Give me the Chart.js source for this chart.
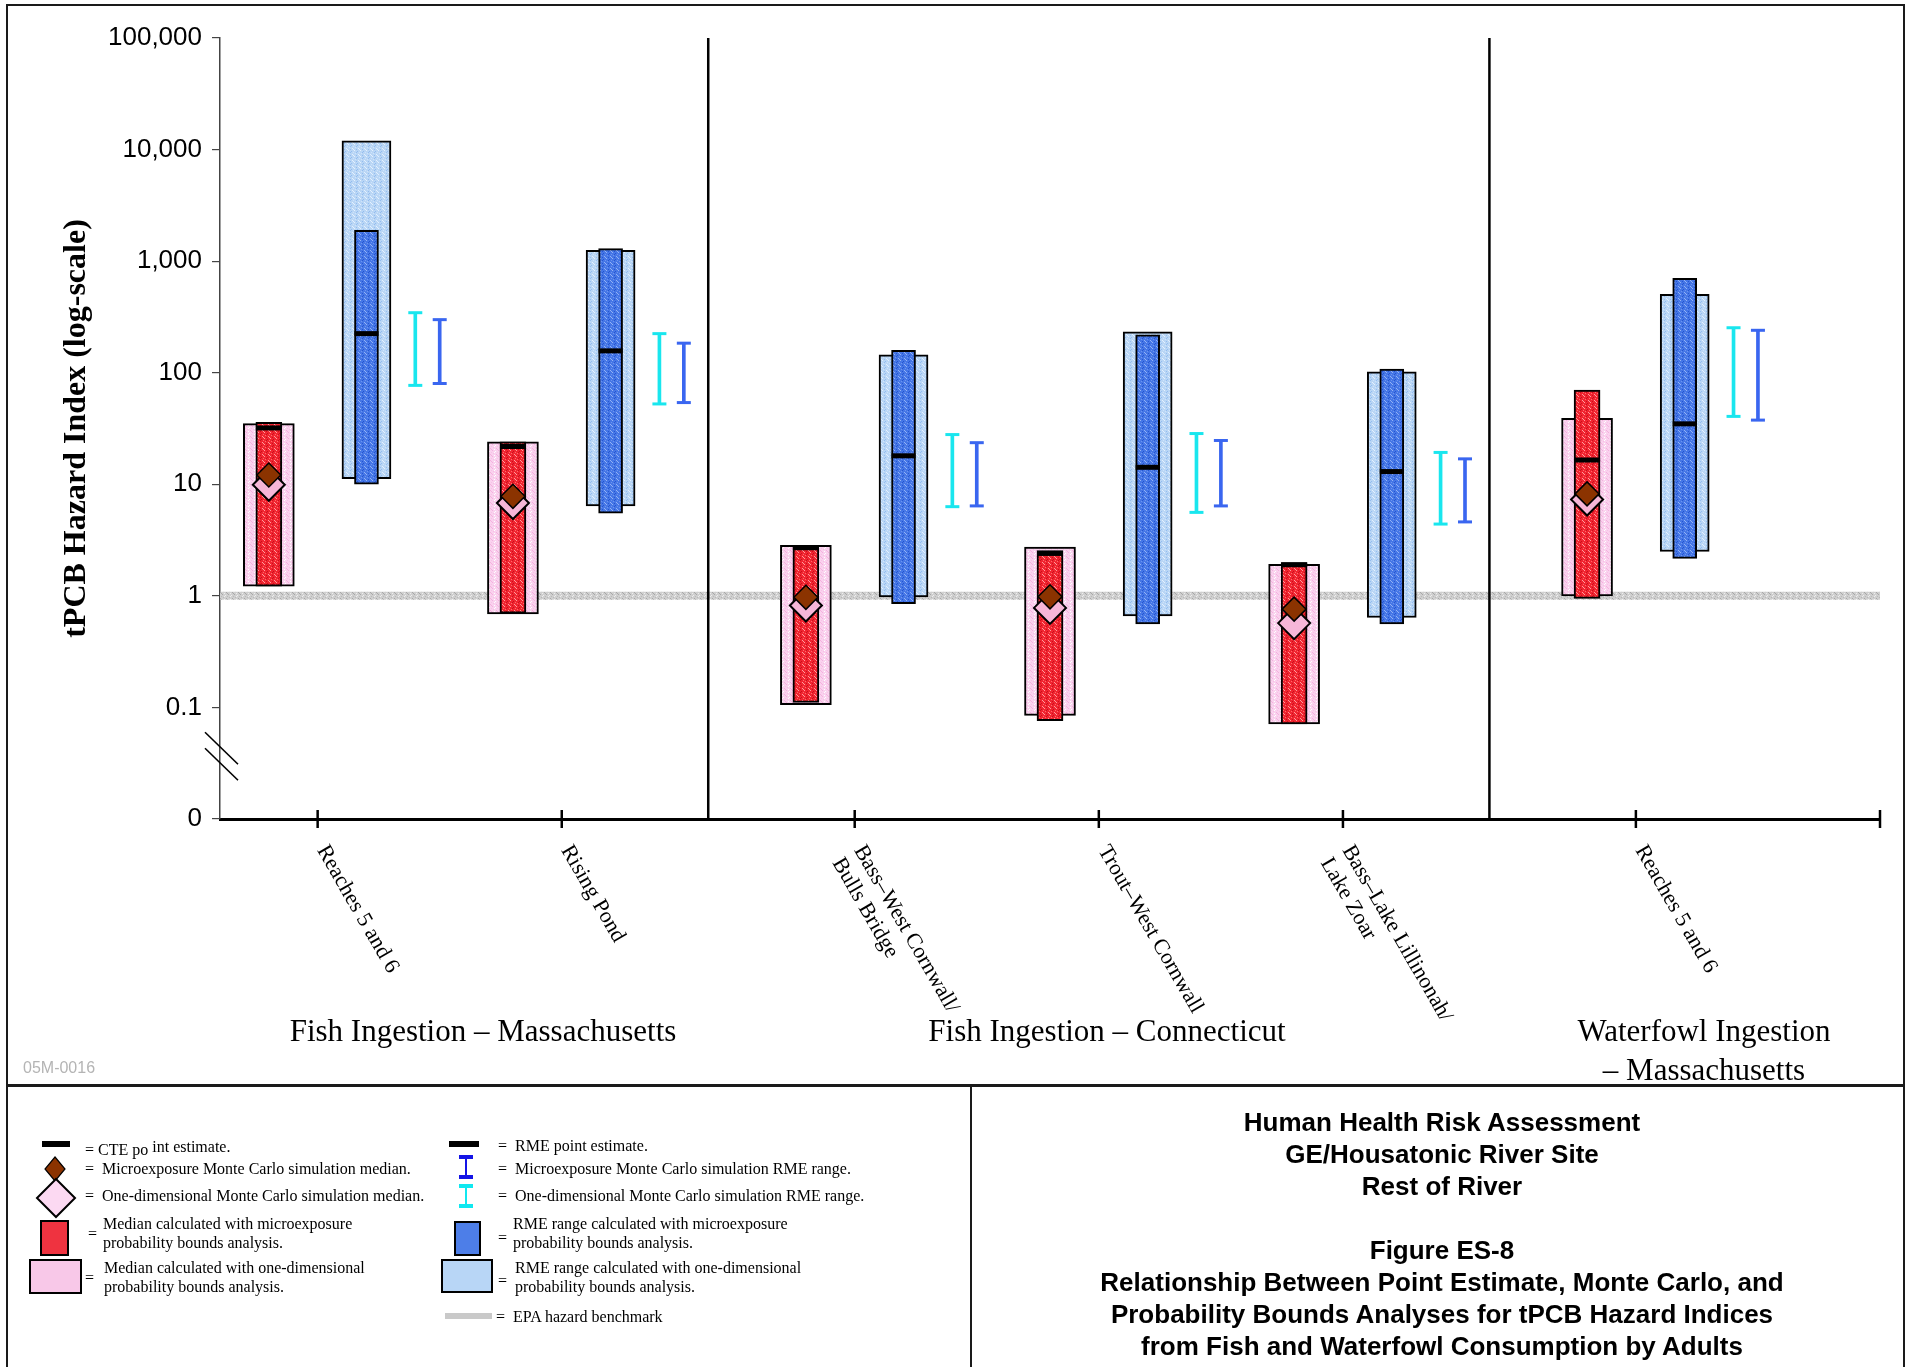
<!DOCTYPE html>
<html>
<head>
<meta charset="utf-8">
<script src="https://cdn.jsdelivr.net/npm/chart.js@4.4.1/dist/chart.umd.min.js"></script>
<style>
  html, body { margin: 0; padding: 0; background: #fff; }
  #page { position: relative; width: 1911px; height: 1367px; overflow: hidden; background: #fff; }
  #chart { position: absolute; left: 0; top: 0; }
  .line { position: absolute; background: #1a1a1a; }
  .t { position: absolute; white-space: nowrap; color: #000; }
  .grp { font-family: 'Liberation Serif'; font-size: 31px; line-height: 39px; text-align: center; transform: translate(-50%, -50%); }
  .leg { font-family: 'Liberation Serif'; font-size: 16px; line-height: 19px; transform: translateY(-50%); }
  .ttl { font-family: 'Liberation Sans'; font-weight: bold; font-size: 26px; line-height: 32px; text-align: center; transform: translateX(-50%); }
  svg { position: absolute; left: 0; top: 0; }
</style>
</head>
<body>
<div id="page">
  <canvas id="chart" width="1911" height="1367"></canvas>

  <!-- frame -->
  <div class="line" style="left:6px; top:4px; width:1899px; height:2px;"></div>
  <div class="line" style="left:6px; top:4px; width:2px; height:1363px;"></div>
  <div class="line" style="left:1903px; top:4px; width:2px; height:1363px;"></div>
  <div class="line" style="left:6px; top:1084px; width:1899px; height:3px;"></div>
  <div class="line" style="left:970px; top:1084px; width:2px; height:283px;"></div>

  <!-- group captions -->
  <div class="t grp" style="left:483px; top:1030px;">Fish Ingestion – Massachusetts</div>
  <div class="t grp" style="left:1107px; top:1030px;">Fish Ingestion – Connecticut</div>
  <div class="t grp" style="left:1704px; top:1050px;">Waterfowl Ingestion<br>– Massachusetts</div>
  <div class="t" style="left:23px; top:1059px; font-family:'Liberation Sans'; font-size:16px; color:#b4b4b4;">05M-0016</div>

  <!-- legend symbols -->
  <svg width="1000" height="1367">
    <rect x="42" y="1141" width="28" height="6" fill="#000"/>
    <polygon points="55,1157 65,1169 55,1181 45,1169" fill="#8b3300" stroke="#000" stroke-width="1.2"/>
    <polygon points="56,1179 75,1198 56,1217 37,1198" fill="#fcd9f2" stroke="#000" stroke-width="2"/>
    <rect x="41" y="1221" width="27" height="34" fill="#ef3340" stroke="#000" stroke-width="2"/>
    <rect x="30" y="1260" width="51" height="33" fill="#f8c8e8" stroke="#000" stroke-width="2"/>

    <rect x="449" y="1141" width="30" height="6" fill="#000"/>
    <rect x="465" y="1156" width="2" height="22" fill="#1414e6"/>
    <rect x="459" y="1155" width="14" height="4" fill="#1414e6"/>
    <rect x="459" y="1175" width="14" height="4" fill="#1414e6"/>
    <rect x="465" y="1185" width="2" height="22" fill="#10e8f0"/>
    <rect x="459" y="1184" width="14" height="4" fill="#10e8f0"/>
    <rect x="459" y="1204" width="14" height="4" fill="#10e8f0"/>
    <rect x="455" y="1222" width="25" height="33" fill="#4d7ee8" stroke="#000" stroke-width="2"/>
    <rect x="442" y="1260" width="50" height="32" fill="#b8d6f6" stroke="#000" stroke-width="2"/>
    <rect x="445" y="1313" width="47" height="6" fill="#c9c9c9"/>
  </svg>

  <!-- legend text, column 1 -->
  <div class="t leg" style="left:85px; top:1146px;"><span style="position:relative; top:3px;">= CTE po</span> int estimate.</div>
  <div class="t leg" style="left:85px; top:1168px;">=&nbsp; Microexposure Monte Carlo simulation median.</div>
  <div class="t leg" style="left:85px; top:1195px;">=&nbsp; One-dimensional Monte Carlo simulation median.</div>
  <div class="t leg" style="left:88px; top:1233px;">=</div>
  <div class="t leg" style="left:103px; top:1233px;">Median calculated with microexposure<br>probability bounds analysis.</div>
  <div class="t leg" style="left:85px; top:1277px;">=</div>
  <div class="t leg" style="left:104px; top:1277px;">Median calculated with one-dimensional<br>probability bounds analysis.</div>

  <!-- legend text, column 2 -->
  <div class="t leg" style="left:498px; top:1145px;">=&nbsp; RME point estimate.</div>
  <div class="t leg" style="left:498px; top:1168px;">=&nbsp; Microexposure Monte Carlo simulation RME range.</div>
  <div class="t leg" style="left:498px; top:1195px;">=&nbsp; One-dimensional Monte Carlo simulation RME range.</div>
  <div class="t leg" style="left:498px; top:1237px;">=</div>
  <div class="t leg" style="left:513px; top:1233px;">RME range calculated with microexposure<br>probability bounds analysis.</div>
  <div class="t leg" style="left:498px; top:1280px;">=</div>
  <div class="t leg" style="left:515px; top:1277px;">RME range calculated with one-dimensional<br>probability bounds analysis.</div>
  <div class="t leg" style="left:496px; top:1316px;">=&nbsp; EPA hazard benchmark</div>

  <!-- title block -->
  <div class="t ttl" style="left:1442px; top:1106px;">Human Health Risk Assessment<br>GE/Housatonic River Site<br>Rest of River<br>&nbsp;<br>Figure ES-8<br>Relationship Between Point Estimate, Monte Carlo, and<br>Probability Bounds Analyses for tPCB Hazard Indices<br>from Fish and Waterfowl Consumption by Adults</div>
</div>

<script>
// categories along the x axis
const categories = [
  'Reaches 5 and 6',
  'Rising Pond',
  'Bass–West Cornwall/\nBulls Bridge',
  'Trout–West Cornwall',
  'Bass–Lake Lillinonah/\nLake Zoar',
  'Reaches 5 and 6'
];
const groupOf = [0, 0, 1, 1, 1, 2];

// y axis ticks (0 stands for the broken bottom of the log axis)
const yTickValues = [0.01, 0.1, 1, 10, 100, 1000, 10000, 100000];
const yTickLabels = ['0', '0.1', '1', '10', '100', '1,000', '10,000', '100,000'];

// median (CTE) side
const medianOneDimLow  = [1.22, 0.69, 0.106, 0.085, 0.071, 1.0];
const medianOneDimHigh = [35, 24, 2.84, 2.74, 1.92, 39];
const medianMicroLow   = [1.22, 0.70, 0.111, 0.076, 0.071, 0.95];
const medianMicroHigh  = [36, 24, 2.84, 2.54, 1.99, 70];
const ctePoint         = [32, 21.8, 2.7, 2.4, 1.9, 16.5];
const mcMicroMedian    = [12.1, 7.8, 0.97, 0.98, 0.76, 8.2];
const mcOneDimMedian   = [9.9, 6.8, 0.82, 0.78, 0.57, 7.3];

// RME side
const rmeOneDimLow  = [11.2, 6.4, 0.98, 0.66, 0.64, 2.5];
const rmeOneDimHigh = [12000, 1250, 145, 232, 102, 504];
const rmeMicroLow   = [10, 5.5, 0.85, 0.56, 0.56, 2.17];
const rmeMicroHigh  = [1885, 1294, 159, 219, 108, 703];
const rmePoint      = [224, 157, 18, 14.2, 13, 34.8];

// Monte Carlo RME ranges
const mcOneDimRmeLow  = [77, 52.5, 6.3, 5.6, 4.4, 40.6];
const mcOneDimRmeHigh = [345, 224, 27.9, 28.5, 19.3, 253];
const mcMicroRmeLow   = [80, 54, 6.4, 6.4, 4.6, 37.6];
const mcMicroRmeHigh  = [299, 184, 23.6, 24.7, 16.9, 240];

const benchmark = 1;

// x layout: ten units per category, two extra units between groups
const pos = categories.map((c, i) => 4 + 10 * i + 2 * groupOf[i]);
const xMax = pos[pos.length - 1] + 10;
const dividers = [];
for (let i = 1; i < pos.length; i++) {
  if (groupOf[i] !== groupOf[i - 1]) dividers.push((pos[i] + pos[i - 1]) / 2);
}

function speckle(base, dots) {
  const c = document.createElement('canvas');
  c.width = c.height = 6;
  const g = c.getContext('2d');
  g.fillStyle = base;
  g.fillRect(0, 0, 6, 6);
  const pts = [[0, 0], [3, 1], [1, 3], [4, 4], [2, 5], [5, 2], [5, 5], [2, 2]];
  pts.forEach(([px, py], k) => {
    g.fillStyle = dots[k % dots.length];
    g.fillRect(px, py, 1, 1);
  });
  return g.createPattern(c, 'repeat');
}

const pinkFill  = speckle('#fad2ee', ['#f4b0de', '#ffffff', '#f7c0e6']);
const redFill   = speckle('#f02430', ['#ff9c9c', '#c8101c', '#ff6a6a']);
const lightFill = speckle('#b9d6f5', ['#e4f0ff', '#93bcf0', '#cfe3fb']);
const darkFill  = speckle('#4576e6', ['#93b2f5', '#2455d0', '#6d95ee']);
const grayFill  = speckle('#cfcfcf', ['#a8a8a8', '#eeeeee', '#b9b9b9']);

const ranges = (lo, hi, off) => lo.map((v, i) => ({x: pos[i] + off, y: [v, hi[i]]}));
const points = (vals, off) => vals.map((v, i) => ({x: pos[i] + off, y: v}));

function box(data, fill, width, order) {
  return {
    type: 'bar', data, backgroundColor: fill, borderColor: '#000', borderWidth: 2,
    borderSkipped: false, barThickness: width, grouped: false, order
  };
}
function marks(data, style, radius, fill, border, bw, order) {
  return {
    type: 'line', data, showLine: false, pointStyle: style, pointRadius: radius,
    pointHoverRadius: radius, pointBackgroundColor: fill, pointBorderColor: border,
    pointBorderWidth: bw, order
  };
}
function errorBar(lo, hi, off, color, order) {
  return [
    {type: 'bar', data: ranges(lo, hi, off), backgroundColor: color, borderWidth: 0,
     barThickness: 3, grouped: false, order},
    marks(points(lo, off).concat(points(hi, off)), 'line', 7, color, color, 3, order)
  ];
}

const datasets = [
  {type: 'line', data: [{x: 0, y: benchmark}, {x: xMax, y: benchmark}], borderColor: grayFill,
   borderWidth: 8, pointRadius: 0, order: 20},
  ...dividers.map(d => ({type: 'line', data: [{x: d, y: 0.01}, {x: d, y: 100000}],
    borderColor: '#000', borderWidth: 2.5, pointRadius: 0, order: 19})),
  box(ranges(rmeOneDimLow, rmeOneDimHigh, 2), lightFill, 49, 9),
  box(ranges(rmeMicroLow, rmeMicroHigh, 2), darkFill, 24, 8),
  box(ranges(medianOneDimLow, medianOneDimHigh, -2), pinkFill, 51, 9),
  box(ranges(medianMicroLow, medianMicroHigh, -2), redFill, 26, 8),
  marks(points(ctePoint, -2), 'line', 13, '#000', '#000', 5, 5),
  marks(points(rmePoint, 2), 'line', 12, '#000', '#000', 5, 5),
  marks(points(mcOneDimMedian, -2), 'rectRot', 16, '#f6b6d8', '#000', 2, 3),
  marks(points(mcMicroMedian, -2), 'rectRot', 12, '#8b3300', '#000', 1.5, 2),
  ...errorBar(mcOneDimRmeLow, mcOneDimRmeHigh, 4, '#19e6ee', 4),
  ...errorBar(mcMicroRmeLow, mcMicroRmeHigh, 5, '#3a66f0', 4)
];

const decor = {
  id: 'decor',
  afterDraw(chart) {
    const {ctx, scales: {x, y}} = chart;
    const axisY = y.getPixelForValue(yTickValues[0]);
    ctx.save();
    ctx.strokeStyle = '#000';
    ctx.lineWidth = 2.5;
    pos.concat([xMax]).forEach(v => {
      const px = x.getPixelForValue(v);
      ctx.beginPath();
      ctx.moveTo(px, axisY - 9);
      ctx.lineTo(px, axisY + 9);
      ctx.stroke();
    });

    ctx.font = '22px "Liberation Serif"';
    ctx.fillStyle = '#000';
    ctx.textAlign = 'left';
    ctx.textBaseline = 'middle';
    categories.forEach((c, i) => {
      const px = x.getPixelForValue(pos[i]);
      ctx.save();
      ctx.translate(px + 4, axisY + 28);
      ctx.rotate(Math.PI / 3);
      c.split('\n').forEach((line, k) => ctx.fillText(line, 0, k * 25));
      ctx.restore();
    });

    // axis break between 0.1 and 0
    const yb = (y.getPixelForValue(yTickValues[1]) + axisY) / 2;
    const ax = x.left;
    ctx.lineWidth = 1.6;
    [yb - 15, yb + 1].forEach(c => {
      ctx.beginPath();
      ctx.moveTo(ax - 15, c - 16);
      ctx.lineTo(ax + 18, c + 16);
      ctx.stroke();
    });
    ctx.restore();
  }
};

new Chart(document.getElementById('chart'), {
  type: 'bar',
  data: {datasets},
  options: {
    responsive: false,
    animation: false,
    devicePixelRatio: 1,
    layout: {padding: {left: 0, top: 38, right: 31, bottom: 538}},
    plugins: {legend: {display: false}, tooltip: {enabled: false}},
    scales: {
      x: {
        type: 'linear', min: 0, max: xMax, offset: false,
        afterFit: s => { s.height = 10; },
        ticks: {display: false},
        grid: {display: false, offset: false},
        border: {color: '#000', width: 3}
      },
      y: {
        type: 'logarithmic', min: yTickValues[0], max: yTickValues[yTickValues.length - 1],
        afterBuildTicks: s => { s.ticks = yTickValues.map(v => ({value: v})); },
        afterFit: s => { s.width = 220; },
        ticks: {
          autoSkip: false,
          callback: v => yTickLabels[yTickValues.indexOf(v)],
          font: {family: 'Liberation Sans', size: 26},
          color: '#000',
          padding: 10
        },
        grid: {drawOnChartArea: false, drawTicks: true, tickLength: 8, color: '#444', lineWidth: 1.2},
        border: {color: '#444', width: 1.5},
        title: {
          display: true,
          text: 'tPCB Hazard Index (log-scale)',
          font: {family: 'Liberation Serif', size: 32, weight: 'bold'},
          color: '#000',
          padding: {top: 58, bottom: 0}
        }
      }
    }
  },
  plugins: [decor]
});
</script>
</body>
</html>
